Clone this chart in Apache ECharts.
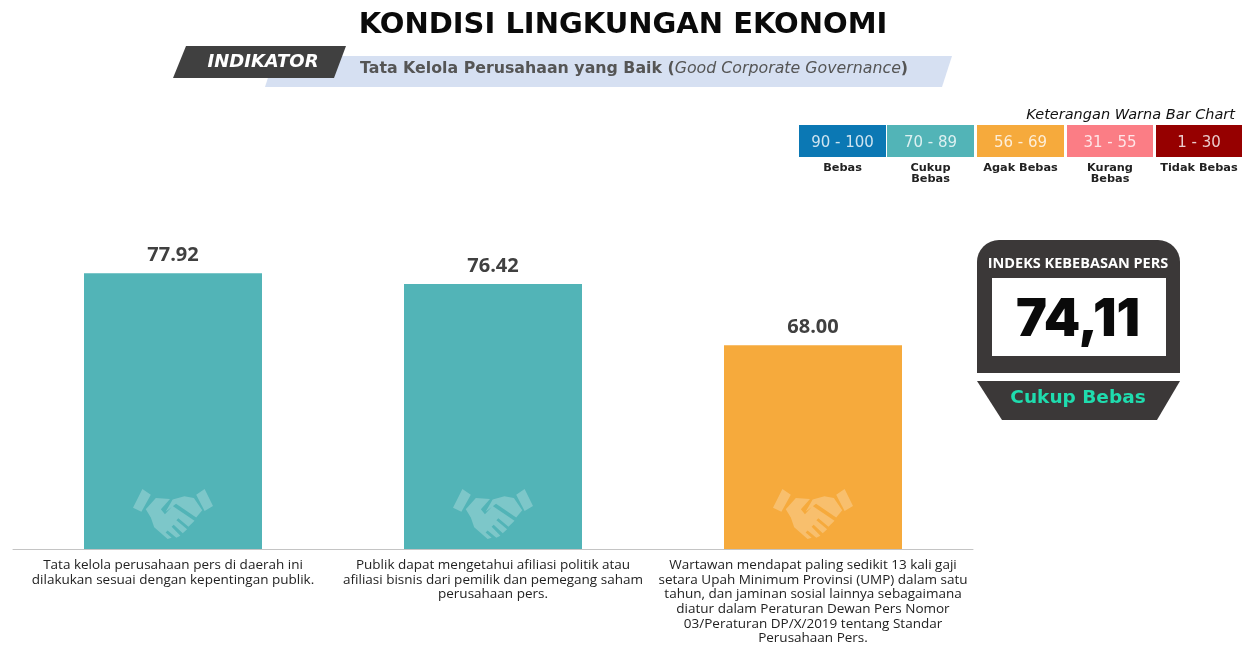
<!DOCTYPE html>
<html><head><meta charset="utf-8">
<style>html,body{margin:0;padding:0;background:#fff}#c{width:1248px;height:646px}</style>
<script src="https://cdn.jsdelivr.net/npm/echarts@6/dist/echarts.min.js"></script>
</head><body><div id="c"></div>
<script>
const categories = [
  "Tata kelola perusahaan pers di daerah ini\ndilakukan sesuai dengan kepentingan publik.",
  "Publik dapat mengetahui afiliasi politik atau\nafiliasi bisnis dari pemilik dan pemegang saham\nperusahaan pers.",
  "Wartawan mendapat paling sedikit 13 kali gaji\nsetara Upah Minimum Provinsi (UMP) dalam satu\ntahun, dan jaminan sosial lainnya sebagaimana\ndiatur dalam Peraturan Dewan Pers Nomor\n03/Peraturan DP/X/2019 tentang Standar\nPerusahaan Pers."
];
const values = [77.92, 76.42, 68.00];
const barColors = ["#52b4b7", "#52b4b7", "#f6aa3c"];
const iconLevels = [44.8, 44.8, 44.8];
const legendRanges = ["90 - 100", "70 - 89", "56 - 69", "31 - 55", "1 - 30"];
const legendNames = ["Bebas", "Cukup\nBebas", "Agak Bebas", "Kurang\nBebas", "Tidak Bebas"];
const legendColors = ["#0b78b4", "#52b4b7", "#f6aa3c", "#fb7d85", "#960000"];
const legendBoxes = [[799,87],[887,87],[977,87],[1067,86],[1156,86]];
const titleText = "KONDISI LINGKUNGAN EKONOMI";
const handshake = "path://M97 120L125 63L150 80L122 132Z M285 80L310 63L335 115L310 130Z M135 125L165 90L207 93L180 125L192 140L215 115L280 160L262 178L232 152L226 158L258 186L245 198L218 172L212 178L238 206L226 212L200 190L194 196L212 212L200 216L160 180L150 150Z M215 95L250 85L278 90L303 128L285 150L225 108L194 132Z";

const font = "'Open Sans', sans-serif";
const dv = "'DejaVu Sans', sans-serif";
const graphics = [];
graphics.push({type:'text',x:623,y:25,style:{text:titleText,font:"700 29px "+dv,fill:'#0a0a0a',textAlign:'center',textVerticalAlign:'middle'}});
graphics.push({type:'polygon',shape:{points:[[275,56],[952,56],[942,87],[265,87]]},style:{fill:'#d6e0f2'}});
graphics.push({type:'polygon',shape:{points:[[186,46],[346,46],[334,78],[173,78]]},style:{fill:'#404040'}});
graphics.push({type:'text',x:263,y:62,style:{text:"INDIKATOR",font:"italic 700 18px "+dv,fill:'#fff',textAlign:'center',textVerticalAlign:'middle'}});
graphics.push({type:'text',x:360,y:69,style:{
  text:"{a|Tata Kelola Perusahaan yang Baik (}{b|Good Corporate Governance}{a|)}",
  textVerticalAlign:'middle',
  rich:{a:{font:"600 15.8px "+dv,fill:'#555'},b:{font:"italic 500 15.8px "+dv,fill:'#555'}}
}});
graphics.push({type:'text',x:1235,y:115,style:{text:"Keterangan Warna Bar Chart",font:"italic 14.5px "+dv,fill:'#111',textAlign:'right',textVerticalAlign:'middle'}});
legendRanges.forEach((r,i)=>{
  const [x,w]=legendBoxes[i];
  graphics.push({type:'rect',shape:{x:x,y:125,width:w,height:32},style:{fill:legendColors[i]}});
  graphics.push({type:'text',x:x+w/2,y:143,style:{text:r,font:"15px "+dv,fill:'rgba(255,255,255,0.8)',textAlign:'center',textVerticalAlign:'middle'}});
  graphics.push({type:'text',x:x+w/2,y:162,style:{text:legendNames[i],font:"700 11.3px "+dv,fill:'#222',textAlign:'center',textVerticalAlign:'top',lineHeight:11.5}});
});
// index panel
graphics.push({type:'rect',shape:{x:977,y:240,width:203,height:133,r:[22,22,0,0]},style:{fill:'#3b3838'}});
graphics.push({type:'rect',shape:{x:992,y:278,width:174,height:78},style:{fill:'#fff'}});
graphics.push({type:'polygon',shape:{points:[[977,381],[1180,381],[1157,420],[1002,420]]},style:{fill:'#3b3838'}});
graphics.push({type:'text',x:1078,y:264,style:{text:"INDEKS KEBEBASAN PERS",font:"700 14.5px "+font,fill:'#fff',textAlign:'center',textVerticalAlign:'middle'}});
graphics.push({type:'text',x:1078,y:320,style:{text:"74,11",font:"900 52px Inter, sans-serif",fill:'#0a0a0a',textAlign:'center',textVerticalAlign:'middle'}});
graphics.push({type:'text',x:1078,y:398,style:{text:"Cukup Bebas",font:"700 18.5px "+dv,fill:'#1fdcae',textAlign:'center',textVerticalAlign:'middle'}});

const chart = echarts.init(document.getElementById('c'),null,{renderer:'canvas'});
chart.setOption({
  animation:false,
  backgroundColor:'#fff',
  grid:{left:13,width:960,top:258,height:291},
  xAxis:{type:'category',data:categories,
    axisTick:{show:false},
    axisLine:{lineStyle:{color:'#c4c4c4',width:1}},
    axisLabel:{interval:0,margin:9,color:'#222',fontFamily:"'Open Sans', sans-serif",fontSize:13.5,lineHeight:14.6}},
  yAxis:{type:'value',min:40,max:80,show:false},
  series:[
    {type:'bar',barWidth:178,
     data:values.map((v,i)=>({value:v,itemStyle:{color:barColors[i]}})),
     label:{show:true,position:'top',distance:8,formatter:p=>p.value.toFixed(2),
       fontFamily:"'Open Sans', sans-serif",fontWeight:700,fontSize:20,color:'#404040'}},
    {type:'scatter',data:iconLevels.map((v,i)=>[i,v]),symbol:handshake,symbolSize:[80,50],z:5,silent:true,
     itemStyle:{color:'rgba(255,255,255,0.25)',opacity:1}}
  ],
  graphic:graphics
});
</script></body></html>
